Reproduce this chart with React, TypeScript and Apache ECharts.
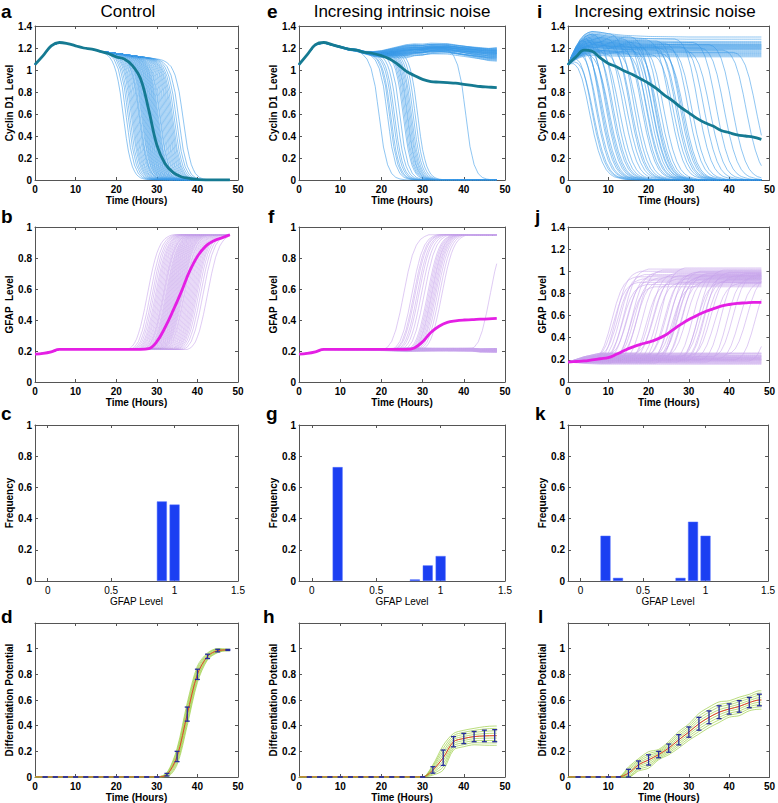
import React, { useEffect, useRef } from "react";
import * as echarts from "echarts";

// ---------------- data ----------------
const HOURS = [0,2,4,6,8,10,12,14,16,18,20,22,24,26,28,30,32,34,36,38,40,42,44,46,48];

// Control: Cyclin D1
const meanCyclinControl = [1.05,1.13,1.22,1.25,1.24,1.22,1.20,1.19,1.17,1.15,1.12,1.10,1.04,0.92,0.64,0.32,0.15,0.07,0.03,0.015,0.005,0,0,0,0];
const plateauCyclinControl = [1.05,1.13,1.22,1.25,1.24,1.22,1.20,1.19,1.17,1.16,1.15,1.14,1.13,1.12,1.11,1.10,1.09,1.08,1.06,1.05,1.04,1.03,1.02,1.01,1.0];
const switchTimesControl = [21.8,22.5,23,23.4,23.8,24.1,24.4,24.7,25,25.3,25.6,25.8,26,26.3,26.5,26.7,26.9,27.1,27.3,27.5,27.7,27.9,28.1,28.3,28.5,28.7,28.9,29.1,29.3,29.5,29.7,29.9,30.1,30.3,30.5,30.8,31,31.3,31.6,31.9,32.2,32.5,32.8,33.1,33.4,33.7,34,34.4,34.9,35.5,36.6];
const dropOffsets = [-6,-5,-4,-3,-2,-1,0,1,2,3,4,5,6,7];
const dropProfile = [1,0.995,0.98,0.95,0.88,0.74,0.5,0.26,0.12,0.05,0.02,0.008,0.003,0];

// Control: GFAP
const meanGfapControl = [0.18,0.185,0.195,0.21,0.21,0.21,0.21,0.21,0.21,0.21,0.21,0.21,0.21,0.21,0.215,0.26,0.35,0.46,0.58,0.71,0.81,0.875,0.91,0.93,0.95];
const gfapBaseline = [0.18,0.185,0.195,0.21,0.21,0.21,0.21,0.21,0.21,0.21,0.21,0.21,0.21,0.21,0.21,0.21,0.21,0.21,0.21,0.21,0.21,0.21,0.205,0.205,0.205];
const riseOffsets = [-5,-4,-3,-2,-1,0,1,2,3,4,5,6];
const riseProfile = [0,0.02,0.07,0.17,0.32,0.5,0.68,0.82,0.91,0.96,0.985,1];
const gfapTop = 0.95;
const gfapLag = 6;

// Intrinsic noise
const meanCyclinIntrinsic = [1.05,1.14,1.23,1.25,1.23,1.21,1.19,1.18,1.16,1.15,1.13,1.10,1.05,0.99,0.95,0.915,0.895,0.89,0.885,0.88,0.87,0.86,0.85,0.845,0.84];
const stayCenterIntrinsic = [1.05,1.14,1.23,1.25,1.23,1.21,1.19,1.18,1.16,1.15,1.15,1.16,1.17,1.18,1.19,1.19,1.20,1.20,1.20,1.19,1.18,1.17,1.16,1.15,1.15];
const switchTimesIntrinsic = [19.5,21.5,22,22.3,22.8,23.2,23.8,24.5,25.3,25.6,25.9,26.2,26.4,26.7,27,27.3,27.7,28.2,28.8,40.5];
const stayMidIntrinsic = [-0.07,-0.06,-0.05,-0.05,-0.04,-0.04,-0.03,-0.03,-0.03,-0.02,-0.02,-0.02,-0.01,-0.01,-0.01,0,0,0,0,0.01,0.01,0.01,0.02,0.02,0.02,0.03,0.03,0.04,0.04,0.05,-0.045,-0.025,-0.015,0.005,0.015,0.025,0.035,-0.035,-0.005,0.045];
const stayEndIntrinsic = [0.02,-0.03,0.04,-0.06,0.01,0.03,-0.02,0.05,-0.04,0.0,0.03,-0.05,0.02,-0.01,0.04,-0.03,0.01,-0.07,0.03,0.0,-0.02,0.05,-0.04,0.02,-0.01,0.04,-0.05,0.01,-0.03,0.03,0.0,-0.02,0.05,-0.06,0.02,-0.01,0.03,-0.04,0.01,0.0];
const meanGfapIntrinsic = [0.18,0.185,0.195,0.21,0.21,0.21,0.21,0.21,0.21,0.21,0.21,0.21,0.21,0.21,0.22,0.26,0.32,0.36,0.385,0.395,0.40,0.402,0.405,0.407,0.41];

// Extrinsic noise
const meanCyclinExtrinsic = [1.05,1.12,1.18,1.17,1.11,1.06,1.03,0.99,0.96,0.92,0.88,0.83,0.77,0.72,0.66,0.61,0.56,0.52,0.49,0.45,0.43,0.41,0.40,0.39,0.37];
const levelShapeHours = [0,1,2,3,4,5,6,8,10,14,20,30,48];
const levelShape = [0,0.35,0.65,0.9,1.07,1.16,1.2,1.17,1.12,1.06,1.02,1.0,1.0];
const stayLevelsExtrinsic = [1.12,1.13,1.14,1.15,1.16,1.17,1.18,1.19,1.19,1.2,1.2,1.21,1.21,1.22,1.22,1.23,1.23,1.24,1.25,1.26,1.28,1.3];
const switchTimesExtrinsic = [5.5,6,6.5,7,7.5,8,8.5,9,9.5,10,10.5,11,11.5,12,13,14,15,15.5,16,16.5,17.5,18.5,19,19.5,20,20.5,21,21.3,21.6,22,22.5,23,24,25.5,26.5,27,27.5,28,28.5,29,30,31,32.5,34,35.5,37,39,41,44.5,47];
const dropLevelsExtrinsic = [1.15,1.2,1.12,1.25,1.18,1.3,1.22,1.16,1.27,1.2,1.13,1.24,1.19,1.28,1.17,1.22,1.14,1.26,1.2,1.3,1.16,1.23,1.19,1.27,1.15,1.21,1.25,1.18,1.29,1.22,1.16,1.24,1.2,1.27,1.14,1.22,1.18,1.26,1.2,1.15,1.24,1.19,1.28,1.21,1.17,1.25,1.2,1.23,1.18,1.16];
const dropOffsetsWide = [-6,-5,-4,-3,-2,-1,0,1,2,3,4,5,6,8,10];
const dropProfileWide = [1,0.99,0.96,0.9,0.8,0.66,0.5,0.35,0.23,0.14,0.08,0.045,0.025,0.008,0];
const meanGfapExtrinsic = [0.18,0.185,0.19,0.20,0.21,0.22,0.25,0.285,0.315,0.34,0.36,0.385,0.42,0.47,0.52,0.565,0.60,0.635,0.66,0.685,0.70,0.71,0.715,0.72,0.72];
const stayBasesExtrinsic = [0.16,0.17,0.17,0.18,0.18,0.19,0.19,0.2,0.2,0.2,0.21,0.21,0.21,0.22,0.22,0.23,0.23,0.24,0.24,0.25,0.26,0.26];
const riseBasesExtrinsic = [0.2,0.22,0.18,0.24,0.21,0.19,0.23,0.2,0.25,0.17,0.21,0.22,0.19,0.24,0.2,0.18,0.23,0.21,0.26,0.2,0.19,0.22,0.24,0.18,0.21,0.23,0.2,0.17,0.22,0.25,0.19,0.21,0.24,0.2,0.18,0.22,0.23,0.2,0.21,0.19,0.24,0.22,0.2,0.18,0.23,0.21,0.25,0.2,0.19,0.22];
const riseTopsExtrinsic = [0.95,0.9,1.0,0.93,0.97,0.88,1.02,0.92,0.96,0.86,0.99,0.94,0.91,1.01,0.95,0.89,0.98,0.93,0.96,0.9,1.03,0.94,0.97,0.92,0.99,0.87,0.95,1.0,0.93,0.96,0.91,0.98,0.94,0.97,0.9,1.01,0.95,0.92,0.99,0.93,0.96,0.89,0.98,0.94,0.97,0.91,0.95,0.93,0.96,0.9];
const gfapLagExtrinsic = 5.5;

// Histograms of GFAP level (bin centre, frequency)
const histControl = [[0.9,0.51],[1.0,0.49]];
const histIntrinsic = [[0.2,0.73],[0.8,0.01],[0.9,0.10],[1.0,0.16]];
const histExtrinsic = [[0.2,0.29],[0.3,0.02],[0.8,0.02],[0.9,0.38],[1.0,0.29]];
const histTicks = [0,0.5,1,1.5];

// Differentiation potential (mean +- error at 2.5 h steps)
const barTimes = [2.5,5,7.5,10,12.5,15,17.5,20,22.5,25,27.5,30,32.5,35,37.5,40,42.5,45,47.5];
const dpMeanControl = [0,0,0,0,0,0,0,0,0,0,0,0,0.018,0.16,0.49,0.80,0.94,0.985,0.99];
const dpErrControl = [0,0,0,0,0,0,0,0,0,0,0,0,0.01,0.04,0.055,0.04,0.017,0.01,0.004];
const dpMeanIntrinsic = [0,0,0,0,0,0,0,0,0,0,0,0,0.055,0.15,0.275,0.30,0.315,0.32,0.322];
const dpErrIntrinsic = [0,0,0,0,0,0,0,0,0,0,0,0,0.025,0.06,0.04,0.04,0.04,0.045,0.047];
const dpMeanExtrinsic = [0,0,0,0,0,0.03,0.095,0.133,0.175,0.225,0.29,0.35,0.415,0.465,0.505,0.53,0.55,0.58,0.60];
const dpErrExtrinsic = [0,0,0,0,0,0.03,0.03,0.04,0.025,0.032,0.04,0.04,0.05,0.05,0.05,0.04,0.045,0.04,0.045];
const greenSpread = [-1.6,-1.2,-0.8,-0.4,0,0.4,0.8,1.2,1.6];

const titles = ["Control", "Incresing intrinsic noise", "Incresing extrinsic noise"];
const letters = [["a","e","i"],["b","f","j"],["c","g","k"],["d","h","l"]];

// ---------------- layout & style ----------------
const FONT = '"Liberation Sans", Arial, Helvetica, sans-serif';
const AX = "#555555";
const COLS = [{ left: 35, width: 203 }, { left: 299, width: 206 }, { left: 568, width: 202 }];
const ROWS = [{ top: 26, height: 154 }, { top: 227, height: 155 }, { top: 425, height: 156 }, { top: 623, height: 156 }];
const LETTER_X = [[1, 267, 537], [1, 268, 535], [1, 266, 535], [1, 263, 538]];
const LETTER_Y = [11, 216, 413, 616];
const TITLE_X = [128, 402, 665];

const C_THIN = "#3b9ae8";
const C_MEAN = "#157a92";
const G_THIN = "#c7a3ec";
const G_MEAN = "#e41fe4";

function lerp(xs: number[], ys: number[], x: number): number {
  if (x <= xs[0]) return ys[0];
  if (x >= xs[xs.length - 1]) return ys[ys.length - 1];
  let i = 1;
  while (xs[i] < x) i++;
  const f = (x - xs[i - 1]) / (xs[i] - xs[i - 1]);
  return ys[i - 1] + f * (ys[i] - ys[i - 1]);
}

const T: number[] = [];
for (let k = 0; k <= 96; k++) T.push(k / 2);

function curve(f: (t: number) => number) {
  return T.map((t) => [t, f(t)]);
}

function thin(gi: number, data: any[], color: string, width = 0.6) {
  return {
    type: "line", xAxisIndex: 2 * gi, yAxisIndex: 2 * gi, data, showSymbol: false, symbol: "none",
    silent: true, lineStyle: { color, width, opacity: 0.95 }, z: 2,
  };
}
function thick(gi: number, ys: number[], color: string) {
  return {
    type: "line", xAxisIndex: 2 * gi, yAxisIndex: 2 * gi, data: HOURS.map((h, i) => [h, ys[i]]),
    showSymbol: false, symbol: "none", smooth: 0.4, silent: true, lineStyle: { color, width: 2.8 }, z: 5,
  };
}

function axesFor(gi: number, xc: any, yc: any) {
  const tick = { show: true, inside: true, length: 3, lineStyle: { color: AX, width: 1 } };
  const line = { show: true, onZero: false, lineStyle: { color: AX, width: 1 } };
  const lab = (bold: boolean) => ({ color: "#000", fontFamily: FONT, fontSize: 10, fontWeight: bold ? "bold" : "normal" });
  const xs = [
    {
      type: "value", gridIndex: gi, position: "bottom", min: xc.min, max: xc.max, interval: xc.interval,
      axisLine: line, axisTick: { ...tick, customValues: xc.custom }, splitLine: { show: false },
      axisLabel: { ...lab(xc.bold), margin: 4, customValues: xc.custom, showMinLabel: true, showMaxLabel: true },
      name: xc.name, nameLocation: "middle", nameGap: 15,
      nameTextStyle: { ...lab(xc.bold) },
    },
    {
      type: "value", gridIndex: gi, position: "top", min: xc.min, max: xc.max, interval: xc.interval,
      axisLine: line, axisTick: { ...tick, customValues: xc.custom }, splitLine: { show: false }, axisLabel: { show: false },
    },
  ];
  const ys = [
    {
      type: "value", gridIndex: gi, position: "left", min: yc.min, max: yc.max, interval: yc.interval,
      axisLine: line, axisTick: tick, splitLine: { show: false },
      axisLabel: { ...lab(true), margin: 3, formatter: yc.formatter },
      name: yc.name, nameLocation: "middle", nameGap: 19, nameTextStyle: { ...lab(true) },
    },
    {
      type: "value", gridIndex: gi, position: "right", min: yc.min, max: yc.max, interval: yc.interval,
      axisLine: line, axisTick: tick, splitLine: { show: false }, axisLabel: { show: false },
    },
  ];
  return { xs, ys };
}

function errBars(gi: number, means: number[], errs: number[]) {
  const data = barTimes.map((t, i) => [t, Math.max(0, means[i] - errs[i]), means[i] + errs[i]]);
  return {
    type: "custom", xAxisIndex: 2 * gi, yAxisIndex: 2 * gi, silent: true, z: 7, data,
    encode: { x: 0, y: [1, 2] },
    renderItem: (_p: any, api: any) => {
      const lo = api.coord([api.value(0), api.value(1)]);
      const hi = api.coord([api.value(0), api.value(2)]);
      const c = 2.5;
      const st = { stroke: "#262c9e", lineWidth: 1.3 };
      return {
        type: "group",
        children: [
          { type: "line", shape: { x1: lo[0], y1: lo[1], x2: hi[0], y2: hi[1] }, style: st },
          { type: "line", shape: { x1: lo[0] - c, y1: lo[1], x2: lo[0] + c, y2: lo[1] }, style: st },
          { type: "line", shape: { x1: hi[0] - c, y1: hi[1], x2: hi[0] + c, y2: hi[1] }, style: st },
        ],
      };
    },
  };
}

function dpSeries(gi: number, means: number[], errs: number[]) {
  const ts = [0, ...barTimes, 48];
  const ms = [0, ...means, means[means.length - 1]];
  const es = [0, ...errs, errs[errs.length - 1]];
  const out: any[] = [];
  greenSpread.forEach((s) => {
    out.push({
      type: "line", xAxisIndex: 2 * gi, yAxisIndex: 2 * gi, showSymbol: false, symbol: "none", silent: true,
      smooth: 0.3, data: ts.map((t, i) => [t, Math.max(0, ms[i] + s * es[i])]),
      lineStyle: { color: "#9fd04a", width: 0.8, opacity: 0.9 }, z: 3,
    });
  });
  out.push({
    type: "line", xAxisIndex: 2 * gi, yAxisIndex: 2 * gi, showSymbol: false, symbol: "none", silent: true,
    smooth: 0.3, data: ts.map((t, i) => [t, ms[i]]), lineStyle: { color: "#e0412a", width: 1 }, z: 5,
  });
  out.push(errBars(gi, means, errs));
  return out;
}

function hist(gi: number, data: number[][]) {
  return {
    type: "bar", xAxisIndex: 2 * gi, yAxisIndex: 2 * gi, data, barWidth: 10, silent: true,
    itemStyle: { color: "#1b3ff2", borderColor: "#4f6cff", borderWidth: 0.5 },
  };
}

function buildOption() {
  const grid: any[] = [];
  const xAxis: any[] = [];
  const yAxis: any[] = [];
  const series: any[] = [];
  const timeX = { min: 0, max: 50, interval: 10, name: "Time (Hours)", bold: true };
  for (let r = 0; r < 4; r++) {
    for (let c = 0; c < 3; c++) {
      const gi = r * 3 + c;
      grid.push({ left: COLS[c].left, width: COLS[c].width, top: ROWS[r].top, height: ROWS[r].height, containLabel: false });
      let xc: any = timeX;
      let yc: any;
      if (r === 0) yc = { min: 0, max: 1.4, interval: 0.2, name: "Cyclin D1  Level" };
      else if (r === 1) yc = { min: 0, max: c === 2 ? 1.4 : 1, interval: 0.2, name: "GFAP  Level" };
      else if (r === 2) {
        xc = { min: -0.1, max: 1.5, custom: histTicks, name: "GFAP Level", bold: false };
        yc = { min: 0, max: 1, interval: 0.2, name: "Frequency" };
      } else {
        yc = {
          min: 0, max: 1.2, interval: 0.2, name: "Differentiation Potential",
          formatter: (v: number) => (v > 1.05 ? "" : String(+v.toFixed(1))),
        };
      }
      const { xs, ys } = axesFor(gi, xc, yc);
      xAxis.push(...xs);
      yAxis.push(...ys);
    }
  }

  // Control cyclin (grid 0) and GFAP (grid 3)
  switchTimesControl.forEach((ts) => {
    series.push(thin(0, curve((t) => lerp(HOURS, plateauCyclinControl, t) * lerp(dropOffsets, dropProfile, t - ts)), C_THIN));
    series.push(thin(3, curve((t) => {
      const b = lerp(HOURS, gfapBaseline, t);
      return b + (gfapTop - b) * lerp(riseOffsets, riseProfile, t - ts - gfapLag);
    }), G_THIN));
  });
  series.push(thick(0, meanCyclinControl, C_MEAN));
  series.push(thick(3, meanGfapControl, G_MEAN));

  // Intrinsic (grid 1, 4)
  stayMidIntrinsic.forEach((mid, k) => {
    const end = stayEndIntrinsic[k];
    const offX = [0, 16, 26, 36, 48];
    const offY = [0, 0.2 * mid, mid, 0.5 * (mid + end), end];
    series.push(thin(1, curve((t) => lerp(HOURS, stayCenterIntrinsic, t) + lerp(offX, offY, t)), C_THIN));
    series.push(thin(4, curve((t) => lerp(HOURS, gfapBaseline, t) + 0.2 * lerp(offX, offY, t)), G_THIN));
  });
  switchTimesIntrinsic.forEach((ts) => {
    series.push(thin(1, curve((t) => lerp(HOURS, stayCenterIntrinsic, t) * lerp(dropOffsets, dropProfile, t - ts)), C_THIN));
    series.push(thin(4, curve((t) => {
      const b = lerp(HOURS, gfapBaseline, t);
      return b + (gfapTop - b) * lerp(riseOffsets, riseProfile, t - ts - gfapLag);
    }), G_THIN));
  });
  series.push(thick(1, meanCyclinIntrinsic, C_MEAN));
  series.push(thick(4, meanGfapIntrinsic, G_MEAN));

  // Extrinsic (grid 2, 5)
  const rampX = [0, 4, 8];
  const rampY = [0, 0.6, 1];
  stayLevelsExtrinsic.forEach((L, k) => {
    series.push(thin(2, curve((t) => 1.05 + (L - 1.05) * lerp(levelShapeHours, levelShape, t)), C_THIN));
    const b = stayBasesExtrinsic[k];
    series.push(thin(5, curve((t) => 0.18 + (b - 0.18) * lerp(rampX, rampY, t)), G_THIN));
  });
  switchTimesExtrinsic.forEach((ts, k) => {
    const L = dropLevelsExtrinsic[k];
    series.push(thin(2, curve((t) => (1.05 + (L - 1.05) * lerp(levelShapeHours, levelShape, t)) * lerp(dropOffsetsWide, dropProfileWide, t - ts)), C_THIN));
    const b0 = riseBasesExtrinsic[k];
    const top = riseTopsExtrinsic[k];
    series.push(thin(5, curve((t) => {
      const b = 0.18 + (b0 - 0.18) * lerp(rampX, rampY, t);
      return b + (top - b) * lerp(riseOffsets, riseProfile, t - ts - gfapLagExtrinsic);
    }), G_THIN));
  });
  series.push(thick(2, meanCyclinExtrinsic, C_MEAN));
  series.push(thick(5, meanGfapExtrinsic, G_MEAN));

  // Histograms
  series.push(hist(6, histControl));
  series.push(hist(7, histIntrinsic));
  series.push(hist(8, histExtrinsic));

  // Differentiation potential
  series.push(...dpSeries(9, dpMeanControl, dpErrControl));
  series.push(...dpSeries(10, dpMeanIntrinsic, dpErrIntrinsic));
  series.push(...dpSeries(11, dpMeanExtrinsic, dpErrExtrinsic));

  const graphic: any[] = [];
  titles.forEach((txt, c) => {
    graphic.push({
      type: "text", x: TITLE_X[c], y: 11, silent: true,
      style: { text: txt, font: `normal 17px ${FONT}`, fill: "#000", align: "center", verticalAlign: "middle" },
    });
  });
  letters.forEach((row, r) => row.forEach((ch, c) => {
    graphic.push({
      type: "text", x: LETTER_X[r][c], y: LETTER_Y[r], silent: true,
      style: { text: ch, font: `bold 19px ${FONT}`, fill: "#000", align: "left", verticalAlign: "middle" },
    });
  }));

  return { animation: false, backgroundColor: "#ffffff", grid, xAxis, yAxis, series, graphic };
}

export default function App() {
  const ref = useRef<HTMLDivElement>(null);
  useEffect(() => {
    if (!ref.current) return;
    const chart = echarts.init(ref.current, undefined, { renderer: "svg" });
    chart.setOption(buildOption() as any);
    return () => chart.dispose();
  }, []);
  return <div ref={ref} style={{ position: "absolute", left: 0, top: 0, width: 778, height: 803 }} />;
}
